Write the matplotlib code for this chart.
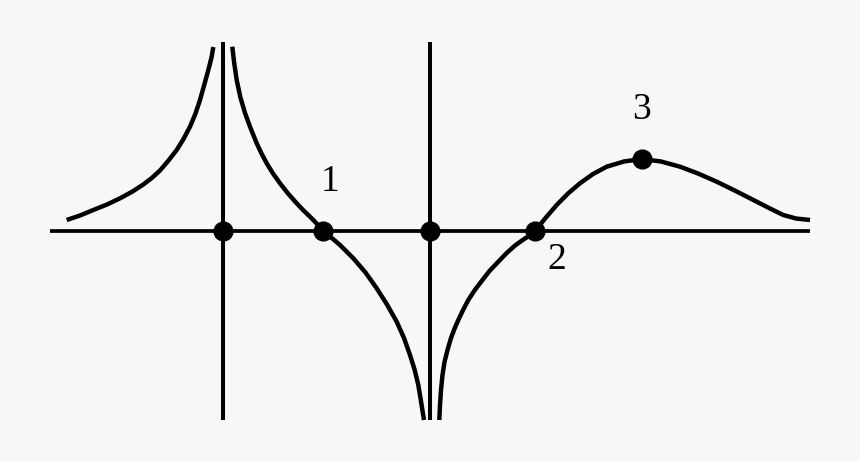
import matplotlib.pyplot as plt

# curve branches (pixel coords, y downward)
left_x = [66.7, 80.0, 93.3, 107.0, 120.0, 132.0, 143.3, 152.0, 160.0, 168.5, 176.7,
          183.5, 190.0, 195.5, 200.0, 203.5, 206.7, 209.5, 211.7, 213.3]
left_y = [220.0, 215.5, 210.0, 204.5, 198.3, 191.8, 184.5, 177.8, 170.5, 160.5, 150.0,
          139.0, 126.7, 113.5, 100.0, 87.5, 76.0, 65.5, 56.5, 47.0]

mid_x = [232.3, 234.2, 236.7, 240.3, 245.0, 250.0, 256.7, 261.5, 266.7, 273.0, 280.0,
         288.0, 296.7, 303.5, 310.0, 316.0, 323.0, 328.0, 340.0, 353.3, 365.5, 376.7,
         387.0, 396.7, 404.0, 410.0, 414.7, 418.3, 420.8, 422.7, 424.0]
mid_y = [46.7, 63.0, 80.0, 97.0, 113.0, 126.7, 143.3, 153.5, 163.3, 173.5, 183.3,
         193.5, 203.3, 210.5, 216.7, 222.8, 230.5, 234.8, 245.0, 258.3, 272.5, 288.3,
         304.5, 321.7, 338.0, 355.0, 370.0, 385.0, 400.0, 412.0, 420.0]

right_x = [439.3, 440.0, 441.0, 442.5, 444.5, 447.5, 451.0, 455.0, 458.3, 463.3, 468.3,
           474.5, 481.7, 489.5, 498.3, 506.7, 515.0, 523.0, 530.0, 535.0, 545.5, 556.7,
           568.0, 580.0, 593.0, 606.7, 624.0, 641.7, 661.0, 680.0, 698.0, 716.7, 736.7,
           756.7, 770.0, 783.3, 796.0, 810.0]
right_y = [420.0, 405.0, 390.0, 375.0, 362.0, 350.0, 338.0, 327.5, 320.0, 309.5, 300.0,
           290.5, 281.0, 271.0, 261.7, 253.0, 245.5, 239.8, 235.3, 231.0, 218.0, 205.0,
           193.5, 183.3, 174.0, 166.7, 161.5, 159.0, 161.5, 166.7, 173.5, 181.7, 191.5,
           201.7, 208.5, 215.0, 218.5, 220.0]

# axis lines
axis_y = 231
axis_x = [50, 810]
vlines_x = [222.5, 430]
vlines_y = [42, 420]

# marked points and labels
dots_x = [222.5, 323, 430, 535, 641.7]
dots_y = [231, 231, 231, 231, 159]
labels = ["1", "2", "3"]
label_x = [330, 557, 641]
label_y = [182, 260, 110]

bg = "#f7f7f7"
fig = plt.figure(figsize=(8.6, 4.61), dpi=100, facecolor=bg)
ax = fig.add_axes([0, 0, 1, 1])
ax.set_facecolor(bg)
ax.set_xlim(0, 860)
ax.set_ylim(461, 0)
ax.axis("off")

ax.plot(axis_x, [axis_y, axis_y], color="k", lw=2.7, solid_capstyle="butt")
for vx in vlines_x:
    ax.plot([vx, vx], vlines_y, color="k", lw=2.9, solid_capstyle="butt")

for xs, ys in [(left_x, left_y), (mid_x, mid_y), (right_x, right_y)]:
    ax.plot(xs, ys, color="k", lw=3.2, solid_capstyle="butt", solid_joinstyle="round")

ax.plot(dots_x, dots_y, "o", color="k", markersize=13.5, zorder=5)

for t, lx, ly in zip(labels, label_x, label_y):
    ax.text(lx, ly, t, family="Liberation Serif", fontsize=27,
            ha="center", va="center")

fig.savefig("out.png", dpi=100, facecolor=bg)
